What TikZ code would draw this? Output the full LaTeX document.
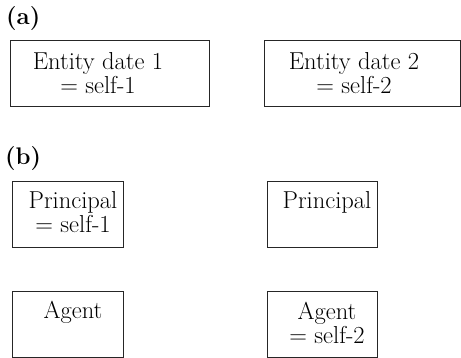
\documentclass[tikz,border=0pt]{standalone}
\usepackage{fontspec}
\begin{document}
\begin{tikzpicture}[x=1pt,y=-1pt,
  box/.style={draw=black!85, line width=0.8pt, inner sep=0pt, minimum height=66pt},
  txt/.style={inner sep=0pt, align=center, font=\fontsize{24.5}{24}\selectfont},
  lbl/.style={inner sep=0pt, anchor=base west, font=\fontsize{24}{24}\selectfont\bfseries}]
\useasboundingbox (0,0) rectangle (461,358);
\node[lbl] (la) at (6,25) {(a)};
\node[lbl] (lb) at (5,165) {(b)};
% (a)
\node[box, minimum width=199pt] (a1) at (109.5,73) {};
\node[box, minimum width=196pt] (a2) at (362,73) {};
\node[txt] (ta1) at (98,73.5) {Entity date 1\\= self-1};
\node[txt] (ta2) at (354,73.5) {Entity date 2\\= self-2};
% (b)
\node[box, minimum width=111pt] (b1) at (67.5,214) {};
\node[box, minimum width=110pt] (b2) at (322,214) {};
\node[box, minimum width=111pt] (b3) at (67.5,324) {};
\node[box, minimum width=110pt] (b4) at (322,324) {};
\node[txt] (tb1) at (73,212.5) {Principal\\= self-1};
\node[txt, anchor=base] (tb2) at (327,209) {Principal};
\node[txt, anchor=base] (tb3) at (73,319) {Agent};
\node[txt] (tb4) at (327,322.7) {Agent\\= self-2};
\end{tikzpicture}
\end{document}
